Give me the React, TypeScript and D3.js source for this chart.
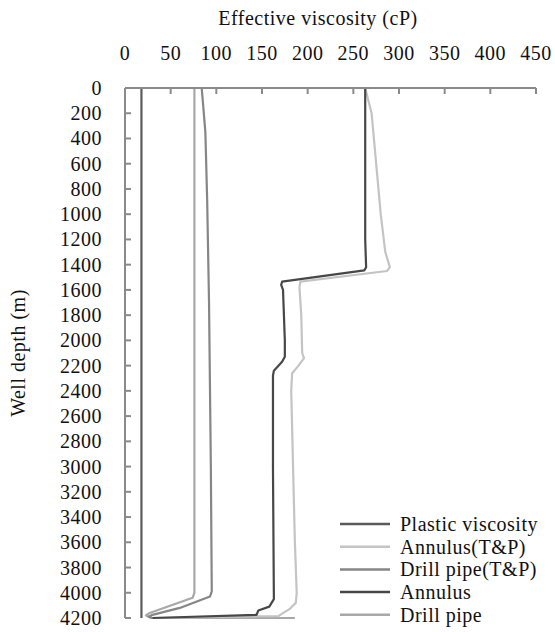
import React from "react";
import * as d3 from "d3";

const xTicks = [0, 50, 100, 150, 200, 250, 300, 350, 400, 450];
const yTicks = [0, 200, 400, 600, 800, 1000, 1200, 1400, 1600, 1800, 2000, 2200, 2400, 2600, 2800, 3000, 3200, 3400, 3600, 3800, 4000, 4200];

const plasticDepth = [0, 4200];
const plasticVal = [18, 18];

const annulusTPDepth = [0, 200, 600, 1000, 1300, 1420, 1450, 1535, 1580, 1800, 2100, 2140, 2200, 2260, 2400, 3000, 3600, 4000, 4080, 4130, 4165, 4185, 4200];
const annulusTPVal = [263, 270, 275, 280, 285, 290, 287, 192, 191, 193, 194, 196, 190, 183, 182, 184, 186, 188, 187, 180, 172, 168, 30];

const drillTPDepth = [0, 350, 900, 1700, 3000, 3990, 4030, 4120, 4175, 4190, 4200];
const drillTPVal = [84, 88, 90, 92, 94, 95, 93, 60, 30, 26, 30];

const annulusDepth = [0, 1200, 1420, 1445, 1535, 1560, 1600, 2000, 2130, 2170, 2240, 2280, 3000, 4050, 4110, 4140, 4175, 4200];
const annulusVal = [263, 263, 264, 262, 172, 171, 173, 175, 175, 172, 163, 162, 162, 163, 158, 146, 144, 30];

const drillDepth = [0, 4000, 4040, 4160, 4180, 4200, 4200];
const drillVal = [76, 76, 74, 27, 23, 29, 186];

const seriesNames = ["Plastic viscosity", "Annulus(T&P)", "Drill pipe(T&P)", "Annulus", "Drill pipe"];
const seriesColors = ["#5a5a5a", "#c4c4c4", "#868686", "#474747", "#a8a8a8"];

export default function App() {
  const W = 555, H = 632;
  const x = d3.scaleLinear().domain([0, 450]).range([125, 536]);
  const y = d3.scaleLinear().domain([0, 4200]).range([88, 618]);
  const font = "'Liberation Serif', 'Times New Roman', serif";
  const fs = 20;
  const ls = 0.5;

  const mk = (depth: number[], val: number[]) =>
    d3.line<[number, number]>().x((d) => x(d[0])).y((d) => y(d[1]))(val.map((v, i) => [v, depth[i]] as [number, number])) || "";

  const series = [
    mk(plasticDepth, plasticVal),
    mk(annulusTPDepth, annulusTPVal),
    mk(drillTPDepth, drillTPVal),
    mk(annulusDepth, annulusVal),
    mk(drillDepth, drillVal),
  ];
  const drawOrder = [4, 2, 1, 3, 0];
  const axisColor = "#8a8a8a";

  return (
    <svg width={W} height={H} style={{ position: "absolute", left: 0, top: 0, background: "#fff" }} fontFamily={font} letterSpacing={ls}>
      <rect x={0} y={0} width={W} height={H} fill="#fff" />
      {drawOrder.map((i) => (
        <path key={i} d={series[i]} fill="none" stroke={seriesColors[i]} strokeWidth={2.2} strokeLinejoin="round" />
      ))}
      {/* axes */}
      <line x1={x(0)} x2={x(450)} y1={y(0)} y2={y(0)} stroke={axisColor} strokeWidth={2} />
      <line x1={x(0)} x2={x(0)} y1={y(0)} y2={y(4200)} stroke={axisColor} strokeWidth={2} />
      {xTicks.map((t) => (
        <g key={"x" + t}>
          <line x1={x(t)} x2={x(t)} y1={y(0)} y2={y(0) + 6} stroke={axisColor} strokeWidth={2} />
          <text x={x(t)} y={60} textAnchor="middle" fontSize={fs} fill="#111">{t}</text>
        </g>
      ))}
      {yTicks.map((t) => (
        <g key={"y" + t}>
          <line x1={x(0)} x2={x(0) + 6} y1={y(t)} y2={y(t)} stroke={axisColor} strokeWidth={2} />
          <text x={102} y={y(t)} textAnchor="end" dominantBaseline="central" fontSize={fs} fill="#111">{t}</text>
        </g>
      ))}
      <text x={318} y={25} textAnchor="middle" fontSize={fs} fill="#111">Effective viscosity (cP)</text>
      <text transform={`translate(25, ${(y(0) + y(4200)) / 2}) rotate(-90)`} textAnchor="middle" fontSize={fs} fill="#111">Well depth (m)</text>
      {/* legend */}
      {seriesNames.map((n, i) => {
        const ly = 524 + i * 22.7;
        return (
          <g key={n}>
            <line x1={340} x2={390} y1={ly} y2={ly} stroke={seriesColors[i]} strokeWidth={2.5} />
            <text x={400} y={ly} dominantBaseline="central" fontSize={fs} fill="#111">{n}</text>
          </g>
        );
      })}
    </svg>
  );
}
